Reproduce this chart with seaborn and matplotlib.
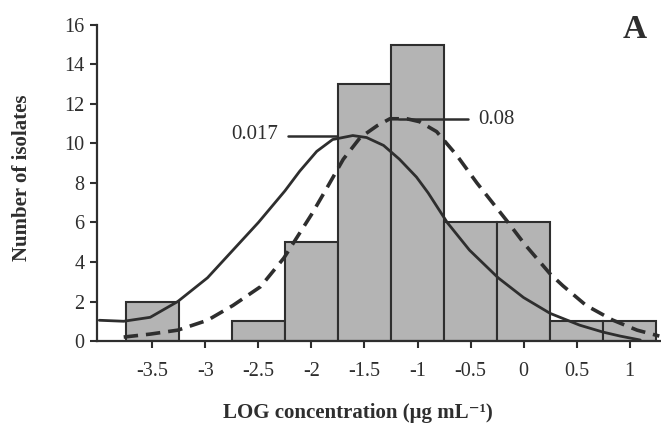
import numpy as np
import pandas as pd
import matplotlib
matplotlib.use("Agg")
import matplotlib.pyplot as plt
import seaborn as sns

# histogram: bin centres (LOG concentration) and number of isolates
bin_centres = [-3.5, -3.0, -2.5, -2.0, -1.5, -1.0, -0.5, 0.0, 0.5, 1.0]
isolates = [2, 0, 1, 5, 13, 15, 6, 6, 1, 1]

# fitted curve, solid (0.017)
solid_x = [-4.0, -3.77, -3.52, -3.26, -2.98, -2.74, -2.5, -2.25, -2.11, -1.95,
           -1.80, -1.61, -1.48, -1.32, -1.17, -1.01, -0.90, -0.72, -0.51, -0.24,
           0.0, 0.25, 0.53, 0.75, 0.91, 1.1]
solid_y = [1.05, 1.0, 1.2, 2.0, 3.2, 4.6, 6.0, 7.6, 8.6, 9.6,
           10.2, 10.4, 10.3, 9.9, 9.2, 8.3, 7.5, 6.0, 4.6, 3.2,
           2.2, 1.4, 0.8, 0.45, 0.25, 0.05]

# fitted curve, dashed (0.08)
dashed_x = [-3.77, -3.52, -3.26, -2.98, -2.74, -2.48, -2.26, -2.0, -1.87, -1.70,
            -1.54, -1.38, -1.26, -1.1, -0.98, -0.82, -0.63, -0.44, -0.16, 0.01,
            0.25, 0.37, 0.59, 0.84, 1.07, 1.28]
dashed_y = [0.2, 0.35, 0.55, 1.05, 1.8, 2.75, 4.2, 6.4, 7.6, 9.2,
            10.3, 10.9, 11.25, 11.25, 11.1, 10.6, 9.4, 8.0, 6.1, 4.9,
            3.4, 2.8, 1.8, 1.06, 0.55, 0.25]

x_ticks = [-3.5, -3, -2.5, -2, -1.5, -1, -0.5, 0, 0.5, 1]
x_tick_labels = ["-3.5", "-3", "-2.5", "-2", "-1.5", "-1", "-0.5", "0", "0.5", "1"]
y_ticks = [0, 2, 4, 6, 8, 10, 12, 14, 16]

sns.set_style("ticks")
plt.rcParams['font.family'] = ['Liberation Serif', 'DejaVu Serif']

ink = "#2e2e2e"

fig = plt.figure(figsize=(6.61, 4.26), dpi=100)
ax = fig.add_axes([0.147, 0.1995, 0.851, 0.742])

hist_df = pd.DataFrame({"conc": bin_centres, "n": isolates})
sns.histplot(data=hist_df, x="conc", weights="n", binwidth=0.5, binrange=(-3.75, 1.25),
             color="#b4b4b4", alpha=1.0, edgecolor=ink, linewidth=1.5, ax=ax)

sns.lineplot(x=solid_x, y=solid_y, sort=False, color=ink, linewidth=2.0, ax=ax)
ax.lines[-1].set_solid_joinstyle("round")
sns.lineplot(x=dashed_x, y=dashed_y, sort=False, color=ink, linewidth=2.6,
             dashes=False, ax=ax)
ax.lines[-1].set_dashes([4, 2.2])

# labels for the two curves
ax.plot([-2.22, -1.76], [10.4, 10.4], color=ink, linewidth=1.8)
ax.text(-2.31, 10.45, "0.017", ha="right", va="center", fontsize=15, color=ink)
ax.plot([-1.17, -0.52], [11.25, 11.25], color=ink, linewidth=1.8)
ax.text(-0.43, 11.2, "0.08", ha="left", va="center", fontsize=15, color=ink)

ax.set_xlim(-4.02, 1.283)
ax.set_ylim(0, 16)
ax.set_xticks(x_ticks)
ax.set_xticklabels(x_tick_labels)
ax.set_yticks(y_ticks)
ax.tick_params(axis="both", direction="out", length=5, width=1.5, colors=ink,
               labelsize=14.5, pad=4)
ax.tick_params(axis="x", pad=10)
sns.despine(ax=ax)
for side in ["left", "bottom"]:
    ax.spines[side].set_color(ink)
    ax.spines[side].set_linewidth(1.6)

ax.set_xlabel("LOG concentration (μg mL⁻¹)", fontsize=15,
              fontweight="bold", color=ink)
ax.set_ylabel("Number of isolates", fontsize=15, fontweight="bold", color=ink)
ax.xaxis.set_label_coords(0.464, -0.195)
ax.yaxis.set_label_coords(-0.116, 0.516)

fig.text(0.96, 0.93, "A", fontsize=24, fontweight="bold", color=ink,
         ha="center", va="center")

fig.savefig("out.png", dpi=100)
